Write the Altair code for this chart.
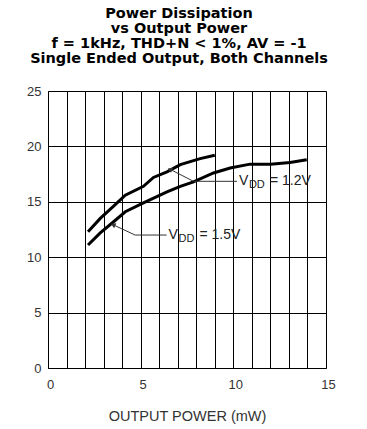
import altair as alt
import pandas as pd

# Curve data (OUTPUT POWER mW, POWER DISSIPATION mW)
x_12 = [2.16, 2.82, 3.54, 4.17, 5.15, 5.69, 6.42, 7.14, 8.21, 9.0]
y_12 = [12.3, 13.5, 14.6, 15.6, 16.4, 17.2, 17.7, 18.35, 18.9, 19.2]
x_15 = [2.16, 2.82, 3.54, 4.17, 5.15, 6.42, 7.14, 7.85, 8.93, 9.83, 10.9, 12.0, 13.06, 13.96]
y_15 = [11.1, 12.2, 13.2, 14.1, 14.9, 15.9, 16.4, 16.8, 17.6, 18.05, 18.4, 18.4, 18.55, 18.8]

x_ticks = list(range(0, 16))
y_ticks = [0, 5, 10, 15, 20, 25]

title_lines = ["Power Dissipation", "vs Output Power",
               "f = 1kHz, THD+N < 1%, AV = -1",
               "Single Ended Output, Both Channels"]

# annotation: leader lines (data coords)
lead_12_x = [6.62, 7.85, 10.2]
lead_12_y = [17.9, 16.85, 16.85]
lead_15_x = [3.55, 4.7, 6.4]
lead_15_y = [12.9, 12.0, 12.0]
lab_x = [10.3, 6.5]
lab_y = [16.85, 12.0]
lab_v = ["= 1.2V", "= 1.5V"]
arrow_angle = [294, 294]

curves = pd.DataFrame({
    "x": x_12 + x_15,
    "y": y_12 + y_15,
    "s": ["1.2"] * len(x_12) + ["1.5"] * len(x_15),
    "o": list(range(len(x_12))) + list(range(len(x_15))),
})
leads = pd.DataFrame({
    "x": lead_12_x + lead_15_x,
    "y": lead_12_y + lead_15_y,
    "s": ["1.2"] * 3 + ["1.5"] * 3,
    "o": [0, 1, 2] * 2,
})
arrows = pd.DataFrame({"x": [lead_12_x[0], lead_15_x[0]],
                       "y": [lead_12_y[0], lead_15_y[0]],
                       "a": arrow_angle})
labels = pd.DataFrame({"x": lab_x, "y": lab_y, "v": lab_v})

xs = alt.Scale(domain=[0, 15], nice=False)
ys = alt.Scale(domain=[0, 25], nice=False)

X = alt.X("x:Q", scale=xs, title="OUTPUT POWER (mW)",
          axis=alt.Axis(values=x_ticks, grid=True, gridColor="black", gridOpacity=1,
                        gridWidth=1, ticks=False, domainColor="black",
                        labelExpr="datum.value % 5 == 0 ? datum.label : ''",
                        labelOverlap=False, labelFlush=False, labelOffset=2,
                        labelFontSize=13, labelColor="#333", labelFont="Liberation Sans",
                        labelPadding=10, titleFontSize=14.5, titleFontWeight="normal",
                        titleColor="#333", titleFont="Liberation Sans", titlePadding=18))
Y = alt.Y("y:Q", scale=ys, title=None,
          axis=alt.Axis(values=y_ticks, grid=True, gridColor="black", gridOpacity=1,
                        gridWidth=1, ticks=False, domainColor="black",
                        labelOverlap=False, labelFlush=False,
                        labelFontSize=13, labelColor="#333", labelFont="Liberation Sans",
                        labelPadding=7))

base_curves = alt.Chart(curves).mark_line(color="black", strokeWidth=3).encode(
    x=X, y=Y, detail="s:N", order="o:Q")

lead_lines = alt.Chart(leads).mark_line(color="#333", strokeWidth=1).encode(
    x=X, y=Y, detail="s:N", order="o:Q")

arrow_heads = alt.Chart(arrows).mark_point(shape="triangle", filled=True, color="#333",
                                           size=30, opacity=1).encode(
    x=X, y=Y, angle=alt.Angle("a:Q", scale=None))

txt_v = alt.Chart(labels).mark_text(align="left", baseline="middle", fontSize=14,
                                    font="Liberation Sans", color="#222").encode(
    x=X, y=Y, text=alt.value("V"))
txt_dd = alt.Chart(labels).mark_text(align="left", baseline="middle", fontSize=11,
                                     font="Liberation Sans", color="#222", dx=10, dy=4).encode(
    x=X, y=Y, text=alt.value("DD"))
txt_rest = alt.Chart(labels).mark_text(align="left", baseline="middle", fontSize=14,
                                       font="Liberation Sans", color="#222", dx=31).encode(
    x=X, y=Y, text=alt.Text("v:N"))

chart = alt.layer(base_curves, lead_lines, arrow_heads, txt_v, txt_dd, txt_rest).properties(
    width=278, height=277,
    title=alt.TitleParams(text=title_lines, fontSize=14.5, fontWeight="bold",
                          font="DejaVu Sans", color="black", anchor="middle",
                          lineHeight=15, dx=-8, offset=19),
    padding={"left": 48, "top": 91, "right": 41, "bottom": 61},
    autosize=alt.AutoSizeParams(type="none"),
).configure_view(stroke="black", strokeWidth=1).configure(background="white")

chart.save("out.html", embed_options={"renderer": "svg", "actions": False})
